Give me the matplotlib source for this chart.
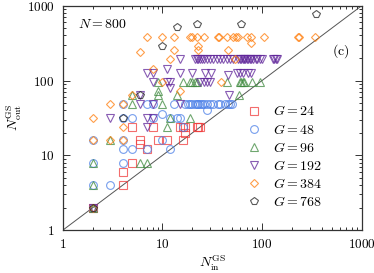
import matplotlib
matplotlib.use('Agg')
import matplotlib.pyplot as plt
from matplotlib.ticker import LogLocator, NullFormatter, FixedLocator

plt.rcParams['mathtext.fontset'] = 'cm'
plt.rcParams['font.family'] = 'serif'
plt.rcParams['font.serif'] = ['DejaVu Serif']

# G = 24
g24_x = [2, 4, 4, 5, 5, 6, 6, 7, 8, 9, 11, 15, 16, 16, 17, 17, 22, 23, 24]
g24_y = [2, 4, 6, 8, 24, 14, 16, 12, 24, 16, 16, 24, 24, 16, 20, 24, 24, 24, 24]

# G = 48
g48_x = [2, 2, 2, 2, 3, 4, 4, 4, 4, 4, 5, 5, 7, 7, 8, 8, 10, 10, 12, 12, 13, 14, 15, 16,
         17, 18, 19, 20, 21, 22, 23, 24, 25, 26, 28, 28, 30, 32, 36, 38, 42, 45, 48, 50]
g48_y = [2, 4, 8, 16, 4, 8, 12, 16, 32, 48, 12, 32, 12, 48, 32, 48, 16, 36, 12, 32, 48, 32, 32, 24,
         48, 48, 48, 48, 48, 48, 48, 48, 48, 48, 48, 40, 48, 48, 48, 48, 48, 48, 48, 48]

# G = 96
g96_x = [2, 2, 2, 3, 5, 5, 6, 7, 9, 9, 9, 10, 11, 12, 14, 16, 19, 19, 20, 21, 22,
         44, 59, 60, 62, 64, 66, 80, 95]
g96_y = [2, 4, 8, 16, 48, 64, 8, 8, 64, 72, 96, 48, 24, 32, 64, 96, 32, 96, 96, 96, 96,
         96, 64, 96, 96, 96, 96, 96, 96]

# G = 192
g192_x = [2, 3, 7, 8, 7, 6, 8, 15, 6, 47, 12,
          8, 11, 12, 24, 26, 28, 30, 46,
          7, 8, 15, 20, 27, 31, 56, 60, 64, 72, 78, 11,
          15, 21, 22, 23, 24, 25, 26, 28, 30, 32, 35, 38, 41, 44, 48, 51,
          58, 60, 62, 64, 66, 68, 70, 72, 75, 78, 82, 86, 90, 96, 100, 128, 132, 138, 142]
g192_y = [2, 32, 32, 32, 24, 48, 48, 48, 64, 64, 80,
          96, 96, 96, 96, 96, 96, 96, 120,
          128, 128, 128, 128, 128, 128, 128, 128, 128, 128, 128, 144,
          192, 192, 192, 192, 192, 192, 192, 192, 192, 192, 192, 192, 192, 192, 192, 192,
          192, 192, 192, 192, 192, 192, 192, 192, 192, 192, 192, 192, 192, 192, 192, 192, 192, 192, 192]

# G = 384
g384_x = [2, 2, 2, 3, 3, 4, 4, 4, 5, 6, 7, 8, 10, 10, 12, 13, 13, 15, 19, 20, 22, 23, 23,
          26, 36, 37, 39, 44, 46, 51, 53, 55, 58, 70, 78, 78, 105, 230, 236, 340]
g384_y = [2, 16, 32, 16, 48, 16, 24, 48, 64, 240, 384, 144, 96, 384, 192, 384, 256, 72, 384, 384, 384, 288, 256,
          384, 384, 384, 96, 384, 256, 384, 192, 384, 384, 384, 384, 320, 384, 384, 384, 384]

# G = 768
g768_x = [2, 4, 6, 10, 14, 22, 62, 350]
g768_y = [2, 32, 64, 288, 512, 576, 576, 768]

series = [
    (g24_x, g24_y, 's', 5.6, '#f03c3c', '$G = 24$'),
    (g48_x, g48_y, 'o', 5.6, '#4a7fe8', '$G = 48$'),
    (g96_x, g96_y, '^', 5.6, '#3f8a3f', '$G = 96$'),
    (g192_x, g192_y, 'v', 5.6, '#60259a', '$G = 192$'),
    (g384_x, g384_y, 'D', 4.2, '#ff7f0e', '$G = 384$'),
    (g768_x, g768_y, 'p', 5.6, '#222222', '$G = 768$'),
]

fig = plt.figure(figsize=(3.74, 2.73), dpi=100)
ax = fig.add_axes([0.168, 0.157, 0.799, 0.822])

ax.plot([1, 1000], [1, 1000], color='#555555', lw=0.7, zorder=1)

for xs, ys, m, ms, c, lab in series:
    ax.plot(xs, ys, linestyle='none', marker=m, markersize=ms, markerfacecolor='none',
            markeredgecolor=c, markeredgewidth=0.8, alpha=0.75, label=lab)

ax.set_xscale('log')
ax.set_yscale('log')
ax.set_xlim(1, 1000)
ax.set_ylim(1, 1000)

ticks = [1, 10, 100, 1000]
labels = ['$1$', '$10$', '$100$', '$1000$']
ax.xaxis.set_major_locator(FixedLocator(ticks))
ax.yaxis.set_major_locator(FixedLocator(ticks))
ax.set_xticklabels(labels)
ax.set_yticklabels(labels)
ax.xaxis.set_minor_locator(LogLocator(base=10, subs=range(2, 10)))
ax.yaxis.set_minor_locator(LogLocator(base=10, subs=range(2, 10)))
ax.xaxis.set_minor_formatter(NullFormatter())
ax.yaxis.set_minor_formatter(NullFormatter())
ax.tick_params(which='both', direction='in', top=True, right=True, labelsize=9.5,
               color='#333333', width=0.7)
ax.tick_params(which='major', length=5, pad=6)
ax.tick_params(which='minor', length=2.5)
for s in ax.spines.values():
    s.set_color('#333333')
    s.set_linewidth(0.9)

ax.set_xlabel(r'$N_{\rm in}^{\rm GS}$', fontsize=10, labelpad=2)
ax.set_ylabel(r'$N_{\rm out}^{\rm GS}$', fontsize=10, labelpad=2)

ax.text(0.05, 0.92, '$N = 800$', transform=ax.transAxes, fontsize=10, va='center')
ax.text(0.9, 0.8, r'$(\mathrm{c})$', transform=ax.transAxes, fontsize=10, va='center')

ax.legend(loc='lower right', bbox_to_anchor=(0.9, 0.05), frameon=False, fontsize=10,
          handletextpad=0.8, labelspacing=0.3, borderpad=0.2, handlelength=1.2)

fig.savefig('out.png', dpi=100)
